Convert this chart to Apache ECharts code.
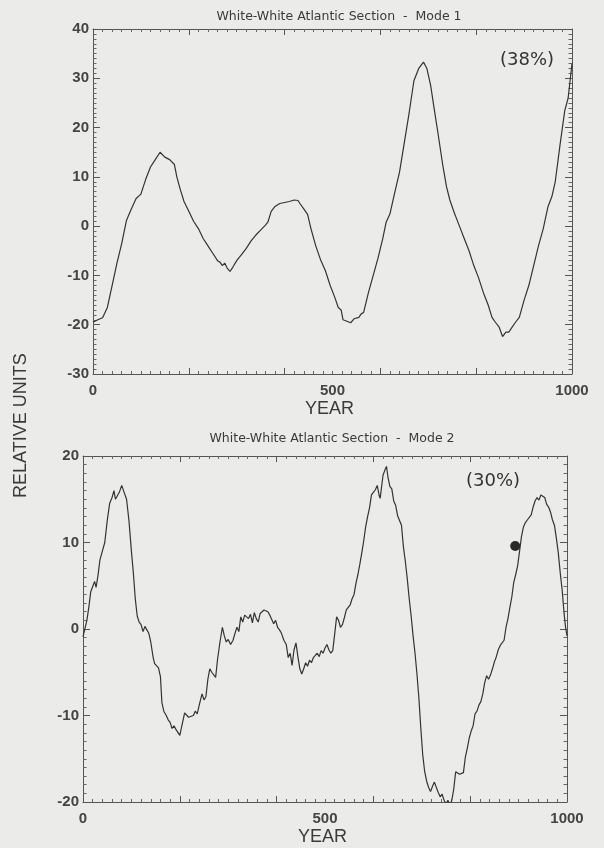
<!DOCTYPE html>
<html>
<head>
<meta charset="utf-8">
<title>White-White Atlantic Section</title>
<script src="https://cdn.jsdelivr.net/npm/echarts@6/dist/echarts.min.js"></script>
<style>
  html, body { margin: 0; padding: 0; background: #ebebea; }
  #chart { width: 604px; height: 848px; }
</style>
</head>
<body>
<div id="chart"></div>
<script>
// Mode 1 (38%)
const mode1Years = [0, 10, 20, 30, 40, 50, 60, 70, 80, 90, 100, 110, 120, 130, 140, 150, 160, 170, 175, 182,
  190, 200, 210, 220, 230, 240, 250, 260, 265, 270, 275, 280, 286, 292, 300, 310, 320, 330, 340, 350,
  360, 365, 372, 380, 390, 400, 410, 420, 428, 432, 440, 448, 455, 465, 475, 485, 495, 505, 512, 518,
  522, 530, 538, 545, 555, 560, 565, 575, 585, 595, 605, 612, 620, 628, 640, 650, 660, 670, 680, 690,
  697, 705, 712, 720, 730, 738, 745, 755, 765, 775, 785, 795, 805, 815, 825, 833, 840, 848, 855, 862,
  868, 875, 882, 890, 900, 910, 920, 930, 940, 950, 958, 965, 975, 985, 992, 1000];
const mode1Values = [-19.5, -19, -18.6, -16.5, -12, -7.5, -3.5, 1.2, 3.5, 5.6, 6.5, 9.5, 12, 13.5, 15, 14, 13.5, 12.5, 10, 7.5,
  5, 3, 1, -0.5, -2.5, -4, -5.5, -7, -7.3, -8, -7.5, -8.5, -9.2, -8.3, -7, -5.8, -4.5, -3, -1.8, -0.8,
  0.2, 0.8, 3, 4, 4.6, 4.8, 5, 5.3, 5.2, 4.6, 3.5, 2.4, -0.5, -4, -6.8, -9, -12, -14.5, -16.5, -17,
  -19, -19.3, -19.6, -18.8, -18.5, -17.8, -17.5, -13.5, -10, -6.5, -2.5, 0.8, 2.5, 6, 11, 17, 23, 29.5, 32, 33.3,
  32, 28.5, 24, 19, 12.5, 8, 5.3, 2.5, 0, -2.5, -5, -8, -10.5, -13.5, -16, -18.5, -19.5, -20.5, -22.4, -21.5,
  -21.5, -20.5, -19.5, -18.5, -15, -12, -8, -4, -0.5, 4, 6, 9, 16.5, 23.5, 26, 33];

// Mode 2 (30%)
const mode2Years = [0, 4, 8, 12, 16, 20, 24, 27, 31, 35, 40, 45, 50, 55, 60, 64, 67, 70, 75, 80,
  85, 90, 95, 100, 104, 108, 112, 116, 120, 124, 128, 132, 136, 140, 145, 148, 152, 156, 160, 163,
  167, 172, 176, 180, 184, 188, 192, 196, 200, 205, 210, 214, 218, 222, 228, 232, 236, 241, 246, 250,
  254, 258, 262, 266, 270, 274, 278, 283, 288, 292, 296, 300, 305, 310, 314, 318, 322, 326, 330, 334,
  338, 342, 346, 350, 354, 358, 362, 366, 370, 374, 378, 382, 386, 390, 394, 398, 402, 406, 410, 415,
  420, 424, 428, 432, 436, 440, 444, 448, 452, 456, 460, 464, 468, 472, 476, 480, 484, 488, 492, 496,
  500, 504, 508, 512, 516, 520, 524, 528, 532, 536, 540, 544, 548, 552, 556, 560, 564, 568, 572, 576,
  580, 584, 588, 592, 596, 600, 604, 608, 612, 614, 617, 620, 624, 627, 630, 634, 638, 642, 646, 650,
  654, 658, 662, 666, 670, 674, 678, 682, 686, 690, 694, 698, 702, 706, 710, 714, 718, 722, 726, 730,
  734, 738, 742, 746, 750, 754, 758, 762, 766, 770, 774, 778, 782, 786, 790, 794, 798, 802, 806, 810,
  814, 818, 822, 826, 830, 834, 838, 842, 846, 850, 854, 858, 862, 866, 870, 874, 878, 882, 886, 890,
  894, 898, 902, 906, 910, 914, 918, 922, 926, 930, 934, 938, 942, 946, 950, 954, 958, 962, 966, 970,
  974, 978, 982, 986, 990, 994, 997, 1000];
const mode2Values = [-0.9, -1, 1, 2.5, 4.3, 4.2, 5.5, 4.8, 6.2, 8, 9, 10, 12.5, 14.5, 15.2, 16, 15, 15.2, 15.8, 16.6,
  15.8, 15, 12.5, 9, 6.5, 3.5, 1.5, 0.8, 0.5, -0.3, 0.3, -0.1, -0.5, -1.5, -3.3, -4, -4, -4.5, -5.5, -8.5,
  -9.5, -10, -10.5, -10.8, -11.5, -11.2, -11.6, -11.4, -12.3, -11, -9.7, -9.8, -10.2, -10, -10, -9.5, -9.8, -8.6, -7.5, -8.2,
  -7.8, -5.8, -4.6, -5, -5.2, -5.6, -3.5, -1.5, 0.2, -0.8, -1.5, -1.2, -1.8, -1.3, -0.5, 0.2, -0.3, 1.4, 0.8, 1.6,
  1.8, 1.2, 1.7, 0.7, 1.9, 1.2, 0.8, 1.8, 1.6, 2.2, 2.4, 2.0, 1.6, 1.4, 0.6, 1.0, 0.2, -0.1, -0.5, -1.3,
  -1.8, -3.3, -2.8, -4.2, -2.4, -1.6, -3.2, -4.6, -5.2, -4.6, -3.9, -4.3, -3.6, -3.9, -3.3, -3.5, -2.8, -3.2, -2.5, -2.8,
  -2.2, -1.8, -2.4, -2.8, -2.5, -0.6, 1.4, 1.0, 0.2, 0.5, 1.3, 2.2, 2.0, 2.8, 3.5, 4.0, 5.3, 6.3, 7.5, 8.8,
  10.2, 11.8, 13, 14, 15.5, 15.8, 16.1, 16.6, 15.4, 15.1, 16.5, 17.8, 18.4, 18.8, 17.6, 16.5, 16.2, 14.8, 14.3, 13.1,
  13.2, 12, 9.5, 7.8, 5.8, 3.5, 1.5, -0.8, -2.8, -5.2, -8, -11.5, -14.6, -16.5, -17.6, -18.3, -18.8, -18.2, -17.7, -17.6,
  -18.9, -19.4, -19.1, -19.8, -20.2, -19.8, -20.4, -19.8, -18.5, -16.5, -16.3, -16.8, -16.9, -16.6, -14.8, -13.8, -12.6, -11.8, -11.2, -9.8,
  -9.5, -8.8, -8.4, -7.5, -6.2, -5.4, -5.8, -5.3, -4.6, -3.8, -3.2, -2.4, -1.9, -1.7, -1.3, 0.2, 1.2, 2.5, 3.7, 5.4,
  6.3, 7.3, 9, 10.7, 11.8, 12.3, 12.6, 12.4, 13.2, 14.1, 14.8, 15.2, 14.9, 15.5, 15.7, 15.2, 14.4, 14.1, 13.5, 12.6,
  12, 10.5, 8.8, 6.5, 4.5, 1.8, 0.2, -0.8];

// ink blot on the second panel
const blotYear = [893];
const blotValue = [9.6];

const xTickLabels = [0, 500, 1000];

const ink = '#333';
const labelFont = { color: '#444', fontSize: 15, fontWeight: 'bold', fontFamily: 'Liberation Sans' };

const pairs = (xs, ys) => xs.map((x, i) => [x, ys[i]]);

// tick-only axis (mirrored on all sides like the original plot)
function tickX (gridIndex, position) {
  return {
    type: 'value', gridIndex, position, min: 0, max: 1000, interval: 200,
    axisLine: { show: true, onZero: false, lineStyle: { color: '#555', width: 1 } },
    axisTick: { show: true, inside: true, length: 6, lineStyle: { color: '#555' } },
    minorTick: { show: true, splitNumber: 10, length: 3, lineStyle: { color: '#666' } },
    axisLabel: { show: false },
    splitLine: { show: false }
  };
}
function labelX (gridIndex) {
  return {
    type: 'value', gridIndex, position: 'bottom', min: 0, max: 1000, interval: 500,
    axisLine: { show: false, onZero: false }, axisTick: { show: false }, splitLine: { show: false },
    axisLabel: { show: true, margin: 9, ...labelFont, formatter: v => xTickLabels.includes(v) ? String(v) : '' }
  };
}
function tickY (gridIndex, position, min, max, showLabel) {
  return {
    type: 'value', gridIndex, position, min, max, interval: 10,
    axisLine: { show: true, onZero: false, lineStyle: { color: '#555', width: 1 } },
    axisTick: { show: true, inside: true, length: 7, lineStyle: { color: '#555' } },
    minorTick: { show: true, splitNumber: 10, length: 3.5, lineStyle: { color: '#666' } },
    axisLabel: { show: showLabel, margin: 4, ...labelFont },
    splitLine: { show: false }
  };
}

const chart = echarts.init(document.getElementById('chart'));
chart.setOption({
  animation: false,
  title: [
    { text: 'White-White Atlantic Section  -  Mode 1', left: 334, top: 5, textAlign: 'center',
      textStyle: { color: '#3a3a3a', fontSize: 12.5, fontWeight: 'normal', fontFamily: 'DejaVu Sans' } },
    { text: 'White-White Atlantic Section  -  Mode 2', left: 327, top: 427, textAlign: 'center',
      textStyle: { color: '#3a3a3a', fontSize: 12.5, fontWeight: 'normal', fontFamily: 'DejaVu Sans' } }
  ],
  grid: [
    { left: 93, right: 32, top: 29, bottom: 474, outerBoundsMode: 'none' },
    { left: 83, right: 37, top: 456, bottom: 46, outerBoundsMode: 'none' }
  ],
  xAxis: [
    tickX(0, 'bottom'), tickX(0, 'top'), labelX(0),
    tickX(1, 'bottom'), tickX(1, 'top'), labelX(1)
  ],
  yAxis: [
    tickY(0, 'left', -30, 40, true), tickY(0, 'right', -30, 40, false),
    tickY(1, 'left', -20, 20, true), tickY(1, 'right', -20, 20, false)
  ],
  graphic: [
    { type: 'text', left: 305, top: 400, style: { text: 'YEAR', fill: '#3a3a3a', fontSize: 18, fontFamily: 'Liberation Sans' } },
    { type: 'text', left: 298, top: 828, style: { text: 'YEAR', fill: '#3a3a3a', fontSize: 18, fontFamily: 'Liberation Sans' } },
    { type: 'text', x: 12, y: 498, rotation: Math.PI / 2,
      style: { text: 'RELATIVE UNITS', fill: '#3a3a3a', fontSize: 18, fontFamily: 'Liberation Sans' } },
    { type: 'text', left: 500, top: 51, style: { text: '(38%)', fill: '#333', fontSize: 18, fontFamily: 'DejaVu Sans' } },
    { type: 'text', left: 466, top: 472, style: { text: '(30%)', fill: '#333', fontSize: 18, fontFamily: 'DejaVu Sans' } }
  ],
  series: [
    {
      name: 'Mode 1', type: 'line', xAxisIndex: 0, yAxisIndex: 0,
      data: pairs(mode1Years, mode1Values), symbol: 'none',
      lineStyle: { color: ink, width: 1.2 }
    },
    {
      name: 'Mode 2', type: 'line', xAxisIndex: 3, yAxisIndex: 2,
      data: pairs(mode2Years, mode2Values), symbol: 'none',
      lineStyle: { color: ink, width: 1.2 }
    },
    {
      // single dot, drawn as a one-point line so it only shows its symbol
      name: 'blot', type: 'line', xAxisIndex: 3, yAxisIndex: 2,
      data: pairs(blotYear, blotValue), symbol: 'circle', symbolSize: 10,
      itemStyle: { color: '#2a2a2a', borderWidth: 0 }
    }
  ]
});
</script>
</body>
</html>
